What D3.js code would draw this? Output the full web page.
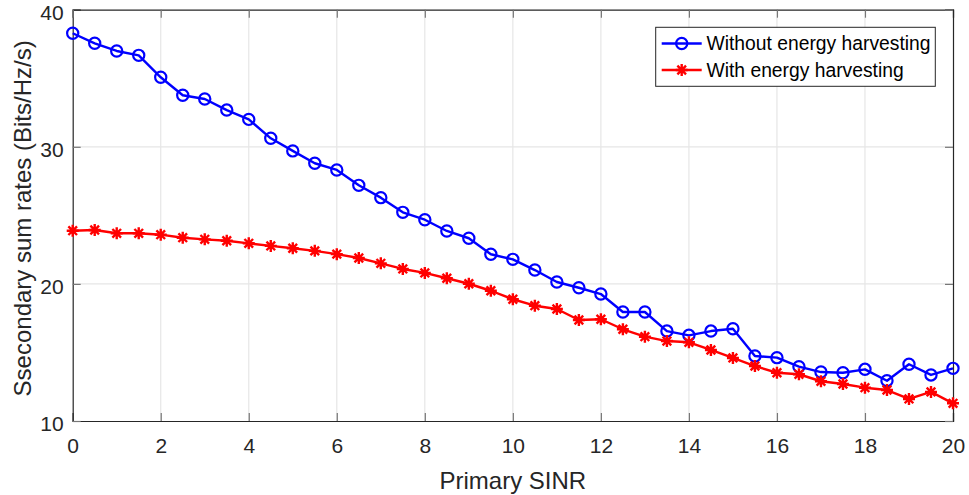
<!DOCTYPE html>
<html>
<head>
<meta charset="utf-8">
<script src="https://cdn.jsdelivr.net/npm/d3@7"></script>
<style>
  html, body { margin: 0; padding: 0; background: #fff; }
  svg { display: block; font-family: "Liberation Sans", Arial, Helvetica, sans-serif; }
</style>
</head>
<body>
<svg id="chart" width="969" height="495"></svg>
<script>
// Primary SINR sample points
const sinr = [0, 0.5, 1, 1.5, 2, 2.5, 3, 3.5, 4, 4.5, 5, 5.5, 6, 6.5, 7, 7.5, 8, 8.5, 9, 9.5,
              10, 10.5, 11, 11.5, 12, 12.5, 13, 13.5, 14, 14.5, 15, 15.5, 16, 16.5, 17, 17.5, 18, 18.5, 19, 19.5, 20];

// Secondary sum rate without energy harvesting
const withoutEH = [38.28, 37.55, 36.99, 36.67, 35.07, 33.76, 33.49, 32.68, 32.0, 30.62, 29.7, 28.8,
                   28.31, 27.19, 26.29, 25.22, 24.68, 23.86, 23.33, 22.16, 21.79, 21.01, 20.14, 19.72,
                   19.26, 17.95, 17.95, 16.56, 16.25, 16.56, 16.73, 14.74, 14.62, 13.96, 13.57, 13.52,
                   13.77, 12.94, 14.14, 13.36, 13.84];

// Secondary sum rate with energy harvesting
const withEH = [23.88, 23.93, 23.69, 23.69, 23.59, 23.37, 23.25, 23.15, 22.96, 22.77, 22.6, 22.41,
                22.17, 21.89, 21.5, 21.09, 20.8, 20.41, 20.01, 19.5, 18.88, 18.41, 18.17, 17.37,
                17.42, 16.69, 16.15, 15.83, 15.74, 15.18, 14.6, 14.01, 13.52, 13.41, 12.9, 12.7,
                12.43, 12.26, 11.61, 12.12, 11.29];

const xTicks = [0, 2, 4, 6, 8, 10, 12, 14, 16, 18, 20];
const yTicks = [10, 20, 30, 40];
const seriesNames = ["Without energy harvesting", "With energy harvesting"];

const svg = d3.select("#chart");
const plot = { left: 72.7, right: 953, top: 9.7, bottom: 421 };

const x = d3.scaleLinear().domain([0, 20]).range([plot.left, plot.right]);
const y = d3.scaleLinear().domain([10, 40]).range([plot.bottom, plot.top]);

const axisColor = "#262626";
const gridColor = "#e6e6e6";

// grid lines
const grid = svg.append("g");
grid.selectAll("line.gx").data(xTicks.slice(1, -1)).join("line")
  .attr("x1", d => x(d)).attr("x2", d => x(d))
  .attr("y1", plot.top).attr("y2", plot.bottom)
  .attr("stroke", gridColor).attr("stroke-width", 1.2);
grid.selectAll("line.gy").data(yTicks.slice(1, -1)).join("line")
  .attr("x1", plot.left).attr("x2", plot.right)
  .attr("y1", d => y(d)).attr("y2", d => y(d))
  .attr("stroke", gridColor).attr("stroke-width", 1.2);

// axes with inward ticks
const tickFont = 21;
const xAxis = svg.append("g")
  .attr("transform", `translate(0,${plot.bottom})`)
  .call(d3.axisBottom(x).tickValues(xTicks).tickSize(-8).tickPadding(17.5).tickFormat(d3.format("d")));
const yAxis = svg.append("g")
  .attr("transform", `translate(${plot.left},0)`)
  .call(d3.axisLeft(y).tickValues(yTicks).tickSize(-8).tickPadding(9).tickFormat(d3.format("d")));
yAxis.selectAll(".tick text").attr("dy", "0.45em");
const xTop = svg.append("g")
  .attr("transform", `translate(0,${plot.top})`)
  .call(d3.axisTop(x).tickValues(xTicks).tickSize(-8).tickFormat(""));
const yRight = svg.append("g")
  .attr("transform", `translate(${plot.right},0)`)
  .call(d3.axisRight(y).tickValues(yTicks).tickSize(-8).tickFormat(""));

[xAxis, yAxis, xTop, yRight].forEach(g => {
  g.select(".domain").attr("stroke", axisColor).attr("stroke-width", 1.2);
  g.selectAll(".tick line").attr("stroke", "#777").attr("stroke-width", 1.2);
  g.selectAll(".tick text").attr("fill", axisColor)
    .style("font-family", "'Liberation Sans', Arial, sans-serif").style("font-size", tickFont + "px");
});

// axis labels
svg.append("text")
  .attr("x", (plot.left + plot.right) / 2).attr("y", 489)
  .attr("text-anchor", "middle").attr("fill", axisColor)
  .style("font-size", "24px")
  .text("Primary SINR");
svg.append("text")
  .attr("transform", `translate(31,${(plot.top + plot.bottom) / 2 + 3}) rotate(-90)`)
  .attr("text-anchor", "middle").attr("fill", axisColor)
  .style("font-size", "24px")
  .text("Ssecondary sum rates (Bits/Hz/s)");

// line series
const line = d3.line().x(d => x(d[0])).y(d => y(d[1]));
const blueData = sinr.map((s, i) => [s, withoutEH[i]]);
const redData = sinr.map((s, i) => [s, withEH[i]]);

svg.append("path").datum(blueData).attr("d", line)
  .attr("fill", "none").attr("stroke", "#0000ff").attr("stroke-width", 2.4).attr("stroke-linejoin", "round");
svg.append("path").datum(redData).attr("d", line)
  .attr("fill", "none").attr("stroke", "#ff0000").attr("stroke-width", 2.4).attr("stroke-linejoin", "round");

// marker shapes
function drawCircle(g, cx, cy) {
  g.append("circle").attr("cx", cx).attr("cy", cy).attr("r", 5.6)
    .attr("fill", "none").attr("stroke", "#0000ff").attr("stroke-width", 2.2);
}
function drawStar(g, cx, cy) {
  const r = 6;
  g.append("path")
    .attr("d", `M${cx - r},${cy}L${cx + r},${cy}M${cx},${cy - r}L${cx},${cy + r}` +
      `M${cx - r * 0.72},${cy - r * 0.72}L${cx + r * 0.72},${cy + r * 0.72}` +
      `M${cx - r * 0.72},${cy + r * 0.72}L${cx + r * 0.72},${cy - r * 0.72}`)
    .attr("stroke", "#ff0000").attr("stroke-width", 2.4).attr("fill", "none");
}

const blueMarks = svg.append("g");
blueData.forEach(d => drawCircle(blueMarks, x(d[0]), y(d[1])));
const redMarks = svg.append("g");
redData.forEach(d => drawStar(redMarks, x(d[0]), y(d[1])));

// legend
const lg = svg.append("g");
lg.append("rect").attr("x", 655.7).attr("y", 27.3).attr("width", 279.6).attr("height", 59)
  .attr("fill", "#fff").attr("stroke", axisColor).attr("stroke-width", 1);
const rows = [
  { name: seriesNames[0], color: "#0000ff", cy: 43.5, mark: drawCircle },
  { name: seriesNames[1], color: "#ff0000", cy: 70, mark: drawStar }
];
rows.forEach(r => {
  lg.append("line").attr("x1", 661.7).attr("x2", 701.7).attr("y1", r.cy).attr("y2", r.cy)
    .attr("stroke", r.color).attr("stroke-width", 2.4);
  r.mark(lg, 681.7, r.cy);
  lg.append("text").attr("x", 706.5).attr("y", r.cy).attr("dy", "0.35em")
    .attr("fill", "#000").style("font-size", "19.3px").text(r.name);
});
</script>
</body>
</html>
